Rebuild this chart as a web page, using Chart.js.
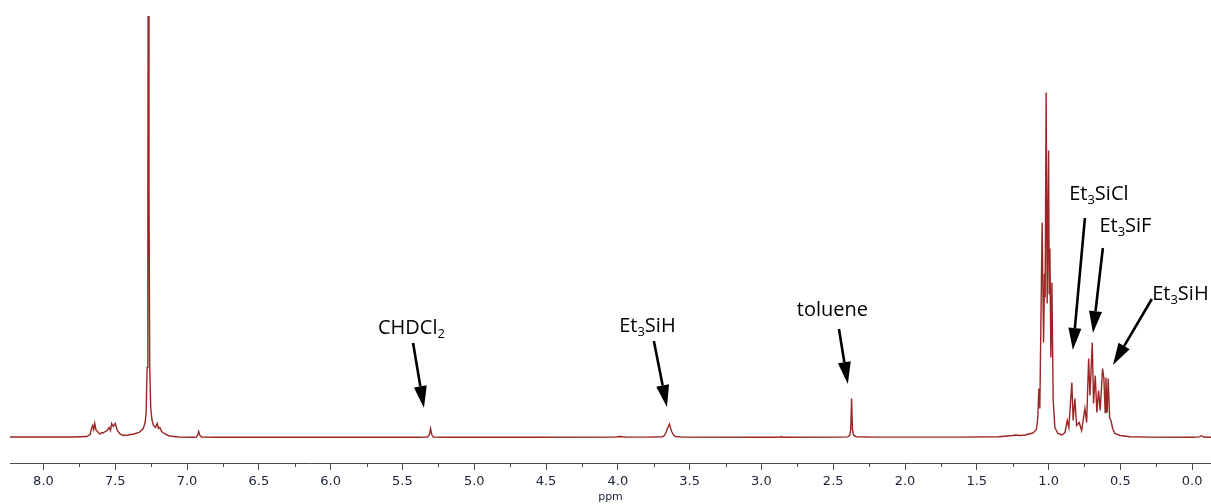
<!DOCTYPE html>
<html>
<head>
<meta charset="utf-8">
<title>1H NMR spectrum</title>
<script src="https://cdn.jsdelivr.net/npm/chart.js@4.4.1/dist/chart.umd.min.js"></script>
<style>
  html, body { margin: 0; padding: 0; background: #fff; }
  #wrap { width: 1211px; height: 504px; }
</style>
</head>
<body>
<div id="wrap"><canvas id="chart"></canvas></div>
<script>
'use strict';

//*****DATA (chemical shift in ppm, intensity above baseline)******/

let aromShift = [8.233, 7.80, 7.70, 7.675, 7.665, 7.657, 7.650, 7.643, 7.634, 7.618, 7.606, 7.595, 7.584, 7.570, 7.556, 7.542, 7.533, 7.525, 7.514, 7.500, 7.486, 7.467, 7.444, 7.41, 7.37, 7.335, 7.305, 7.292, 7.285, 7.278, 7.273, 7.269, 7.265, 7.260, 7.253, 7.245, 7.234, 7.220, 7.208, 7.199, 7.189, 7.177, 7.154, 7.123, 7.06, 6.96, 6.935, 6.925, 6.919, 6.912, 6.90];
let aromInt = [0.5, 0.5, 1, 3, 9, 12, 8, 14, 7.5, 5, 3.5, 5, 4.5, 6, 7, 10, 7, 14, 11, 14, 7, 3.5, 2, 2.5, 3.5, 5, 9, 15, 25, 70, 250, 600, 250, 70, 30, 18, 12, 10, 14, 9, 10, 6, 3.5, 1.5, 0.5, 0.3, 0.5, 3, 6, 2.5, 0.5];

let midShift = [6.80, 6.0, 5.40, 5.325, 5.312, 5.304, 5.296, 5.285, 5.20, 4.6, 4.02, 3.99, 3.95, 3.80, 3.69, 3.675, 3.662, 3.652, 3.645, 3.640, 3.634, 3.625, 3.612, 3.60, 3.55, 3.0, 2.87, 2.86, 2.85, 2.45, 2.40, 2.385, 2.378, 2.372, 2.366, 2.359, 2.34, 2.2, 1.6, 1.35, 1.29, 1.25, 1.23, 1.20, 1.16];
let midInt = [0.3, 0.3, 0.3, 0.5, 3, 9, 3, 0.5, 0.3, 0.3, 0.4, 1, 0.5, 0.4, 0.8, 2, 6, 10, 12, 13.5, 10, 6, 2.5, 1, 0.4, 0.3, 0.3, 0.9, 0.3, 0.4, 0.6, 2, 8, 39, 8, 2.5, 0.8, 0.4, 0.4, 0.8, 1.5, 2, 2.5, 2, 2.5];

let ethylShift = [1.153, 1.109, 1.085, 1.075, 1.068, 1.061, 1.045, 1.035, 1.028, 1.024, 1.017, 1.010, 1.000, 0.996, 0.991, 0.984, 0.977, 0.968, 0.956, 0.935, 0.907, 0.886, 0.870, 0.859, 0.838, 0.829, 0.817, 0.805, 0.787, 0.770, 0.747, 0.735, 0.721, 0.712, 0.696, 0.687, 0.675, 0.664, 0.652, 0.641, 0.624, 0.615, 0.606, 0.601, 0.592, 0.585, 0.575, 0.566, 0.554, 0.538, 0.503, 0.433, 0.30, 0.0, -0.05, -0.065, -0.08, -0.131];
let ethylInt = [3, 4.5, 8, 20, 49, 29, 215, 95, 164, 140, 345, 134, 287, 144, 189, 80, 155, 37, 10, 4, 2.5, 5, 17, 10, 55, 17, 39, 12, 15, 7, 29, 15, 79, 42, 95, 34, 62, 25, 47, 27, 69, 59, 25, 60, 25, 59, 20, 17, 9, 4, 2, 0.8, 0.4, 0.3, 0.6, 1.8, 0.5, 0.3];

let tickValues = [8.0, 7.5, 7.0, 6.5, 6.0, 5.5, 5.0, 4.5, 4.0, 3.5, 3.0, 2.5, 2.0, 1.5, 1.0, 0.5, 0.0];
let minorTicks = [8.25, 7.75, 7.25, 6.75, 6.25, 5.75, 5.25, 4.75, 4.25, 3.75, 3.25, 2.75, 2.25, 1.75, 1.25, 0.75, 0.25, -0.25];

// label: [shift, intensity] of text centre/baseline, arrow tail and tip
let peakLabels = [
  { parts: [['CHDCl', false], ['2', true]], at: [5.437, 103.5], tail: [5.426, 94.5], tip: [5.350, 29.5] },
  { parts: [['Et', false], ['3', true], ['SiH', false]], at: [3.794, 105.5], tail: [3.749, 96.5], tip: [3.658, 30.5] },
  { parts: [['toluene', false]], at: [2.506, 121.5], tail: [2.460, 108.5], tip: [2.398, 53.5] },
  { parts: [['Et', false], ['3', true], ['SiCl', false]], at: [0.650, 237.5], tail: [0.747, 219.5], tip: [0.831, 87.5] },
  { parts: [['Et', false], ['3', true], ['SiF', false]], at: [0.465, 205.5], tail: [0.622, 189.5], tip: [0.691, 104.5] },
  { parts: [['Et', false], ['3', true], ['SiH', false]], at: [0.082, 137.5], tail: [0.281, 138.5], tip: [0.552, 72.5] }
];

//*****STYLE******/

let lineColor = '#9a2626';
let axisColor = '#4a4a4a';
let tickColor = '#1a2238';
let labelFont = '"Open Sans", sans-serif';

//*****HELPERS******/

function buildPoints() {
  let pts = [];
  let shifts = aromShift.concat(midShift, ethylShift);
  let ints = aromInt.concat(midInt, ethylInt);
  for (let i = 0; i < shifts.length; i++) {
    pts.push({ x: shifts[i], y: ints[i] });
  }
  return pts;
}

function drawChem(ctx, parts, cx, baseY) {
  let widths = [];
  let total = 0;
  for (let i = 0; i < parts.length; i++) {
    ctx.font = (parts[i][1] ? '13px ' : '20px ') + labelFont;
    let w = ctx.measureText(parts[i][0]).width;
    widths.push(w);
    total += w;
  }
  let x = cx - total / 2;
  for (let i = 0; i < parts.length; i++) {
    ctx.font = (parts[i][1] ? '13px ' : '20px ') + labelFont;
    ctx.fillText(parts[i][0], x, parts[i][1] ? baseY + 4 : baseY);
    x += widths[i];
  }
}

function drawArrow(ctx, x1, y1, x2, y2) {
  let ang = Math.atan2(y2 - y1, x2 - x1);
  let headLen = 22;
  let headHalf = 6.5;
  let bx = x2 - headLen * Math.cos(ang);
  let by = y2 - headLen * Math.sin(ang);
  ctx.lineWidth = 2.6;
  ctx.beginPath();
  ctx.moveTo(x1, y1);
  ctx.lineTo(bx, by);
  ctx.stroke();
  ctx.beginPath();
  ctx.moveTo(x2, y2);
  ctx.lineTo(bx + headHalf * Math.sin(ang), by - headHalf * Math.cos(ang));
  ctx.lineTo(bx - headHalf * Math.sin(ang), by + headHalf * Math.cos(ang));
  ctx.closePath();
  ctx.fill();
}

let extrasPlugin = {
  id: 'extras',
  afterDraw(chart) {
    let ctx = chart.ctx;
    let xs = chart.scales.x;
    let ys = chart.scales.y;
    ctx.save();

    // minor ticks under the axis
    ctx.strokeStyle = axisColor;
    ctx.lineWidth = 1;
    minorTicks.forEach(function (v) {
      if (v < xs.min || v > xs.max) return;
      let px = Math.round(xs.getPixelForValue(v)) + 0.5;
      ctx.beginPath();
      ctx.moveTo(px, xs.top);
      ctx.lineTo(px, xs.top + 4);
      ctx.stroke();
    });

    // peak labels with arrows
    ctx.fillStyle = '#000';
    ctx.strokeStyle = '#000';
    ctx.textBaseline = 'alphabetic';
    ctx.textAlign = 'left';
    peakLabels.forEach(function (lab) {
      drawChem(ctx, lab.parts, xs.getPixelForValue(lab.at[0]), ys.getPixelForValue(lab.at[1]));
      drawArrow(ctx,
        xs.getPixelForValue(lab.tail[0]), ys.getPixelForValue(lab.tail[1]),
        xs.getPixelForValue(lab.tip[0]), ys.getPixelForValue(lab.tip[1]));
    });
    ctx.restore();
  }
};

//*****CHART******/

let canvasElem = document.getElementById('chart');

let chartObj = {
  type: 'line',
  data: {
    datasets: [{
      label: '1H',
      data: buildPoints(),
      borderColor: lineColor,
      borderWidth: 1.4,
      pointRadius: 0,
      tension: 0,
      fill: false
    }]
  },
  options: {
    responsive: true,
    maintainAspectRatio: false,
    animation: false,
    events: [],
    layout: { padding: { top: 16, left: 10, right: 0, bottom: 0 } },
    plugins: {
      legend: { display: false },
      tooltip: { enabled: false }
    },
    scales: {
      x: {
        type: 'linear',
        reverse: true,
        min: -0.131,
        max: 8.233,
        afterBuildTicks: function (scale) {
          scale.ticks = tickValues.map(function (v) { return { value: v }; });
        },
        afterFit: function (scale) {
          scale.height = 41;
        },
        ticks: {
          autoSkip: false,
          maxRotation: 0,
          padding: 4,
          color: tickColor,
          font: { family: '"DejaVu Sans", sans-serif', size: 13 },
          callback: function (v) { return Number(v).toFixed(1); }
        },
        grid: { drawOnChartArea: false, tickLength: 7, color: axisColor },
        border: { color: axisColor, width: 1 },
        title: {
          display: true,
          text: 'ppm',
          color: tickColor,
          padding: { top: 0, bottom: 0 },
          font: { family: '"DejaVu Sans", sans-serif', size: 11 }
        }
      },
      y: {
        display: false,
        min: -25.5,
        max: 421.5
      }
    }
  },
  plugins: [extrasPlugin]
};

new Chart(canvasElem, chartObj);
</script>
</body>
</html>
